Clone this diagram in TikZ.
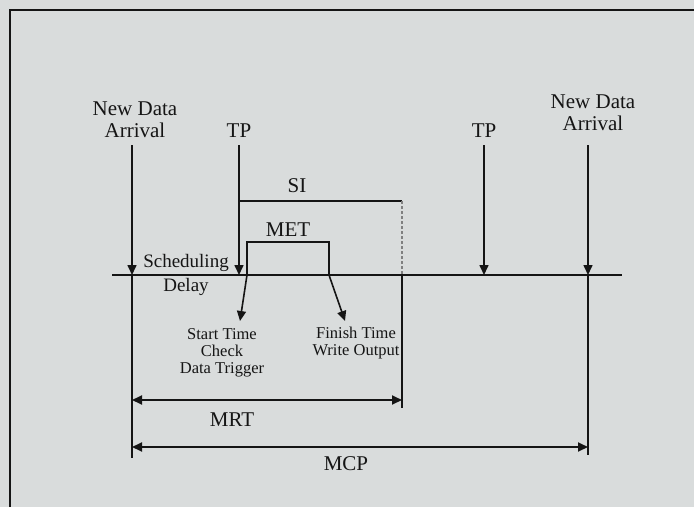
\documentclass[tikz,border=0pt]{standalone}
\usepackage{fontspec}
\setmainfont{Liberation Serif}
\usetikzlibrary{arrows.meta}
\definecolor{bg}{HTML}{D9DCDC}
\definecolor{ink}{HTML}{151515}
\tikzset{
  big/.style={font=\fontsize{21}{22}\selectfont, text=ink, inner sep=0pt, align=center},
  small/.style={font=\fontsize{16.5}{17}\selectfont, text=ink, inner sep=0pt, align=center},
  arr/.style={draw=ink, line width=1.6pt, -{Triangle[length=10pt,width=9pt]}},
  dbl/.style={draw=ink, line width=1.8pt, {Triangle[length=10pt,width=9pt]}-{Triangle[length=10pt,width=9pt]}},
  thin/.style={draw=ink, line width=1.3pt},
}
\begin{document}
\begin{tikzpicture}[x=1pt,y=-1pt]
\fill[bg] (0,0) rectangle (694,507);
\useasboundingbox (0,0) rectangle (694,507);
% frame
\draw[ink, line width=2.2pt] (10,507) -- (10,10) -- (694,10);

% key coordinates
\coordinate (tlL) at (112,275);
\coordinate (tlR) at (622,275);
\coordinate (a1top) at (132,145);
\coordinate (a1bot) at (132,275);
\coordinate (a1end) at (132,458);
\coordinate (tp1top) at (239,145);
\coordinate (tp1bot) at (239,275);
\coordinate (tp2top) at (484,145);
\coordinate (tp2bot) at (484,275);
\coordinate (a2top) at (588,145);
\coordinate (a2bot) at (588,275);
\coordinate (a2end) at (588,455);
\coordinate (siL) at (239,201);
\coordinate (siR) at (402,201);
\coordinate (siB) at (402,275);
\coordinate (siEnd) at (402,408);
\coordinate (metA) at (247,275);
\coordinate (metB) at (247,242);
\coordinate (metC) at (329,242);
\coordinate (metD) at (329,275);
\coordinate (stEnd) at (240,321);
\coordinate (fiEnd) at (345,321);
\coordinate (mrtL) at (132,400);
\coordinate (mrtR) at (402,400);
\coordinate (mcpL) at (132,447);
\coordinate (mcpR) at (588,447);

% labels
\node[big] (nda1) at (135,120) {New Data\\Arrival};
\node[big] (tp1) at (239,131) {TP};
\node[big] (tp2) at (484,131) {TP};
\node[big] (nda2) at (593,113) {New Data\\Arrival};
\node[big] (si) at (297,186) {SI};
\node[big] (met) at (288,230) {MET};
\node[small, font=\fontsize{19}{24}\selectfont] (sched) at (186,275) {Scheduling\\Delay};
\node[small] (start) at (222,353) {Start Time\\Check\\Data Trigger};
\node[small] (finish) at (356,343) {Finish Time\\Write Output};
\node[big] (mrt) at (232,420) {MRT};
\node[big] (mcp) at (346,464) {MCP};

% timeline
\draw[ink, line width=2.2pt] (tlL) -- (tlR);
% vertical arrows
\draw[arr] (a1top) -- (a1bot);
\draw[arr] (tp1top) -- (tp1bot);
\draw[arr] (tp2top) -- (tp2bot);
\draw[arr] (a2top) -- (a2bot);
% extension lines
\draw[thin] (a1bot) -- (a1end);
\draw[thin] (a2bot) -- (a2end);
\draw[thin] (siB) -- (siEnd);
% SI
\draw[thin] (siL) -- (siR);
\draw[gray, line width=1.2pt, densely dashed] (siR) -- (siB);
% MET box
\draw[ink, line width=1.6pt] (metA) -- (metB) -- (metC) -- (metD);
% start / finish arrows
\draw[arr] (metA) -- (stEnd);
\draw[arr] (metD) -- (fiEnd);
% MRT, MCP
\draw[dbl] (mrtL) -- (mrtR);
\draw[dbl] (mcpL) -- (mcpR);
\end{tikzpicture}
\end{document}
